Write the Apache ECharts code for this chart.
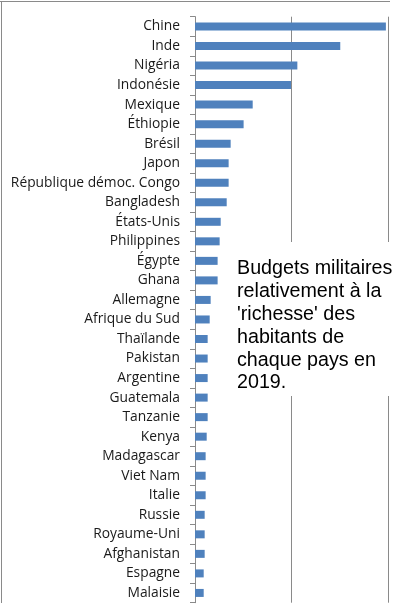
<!DOCTYPE html>
<html>
<head>
<meta charset="utf-8">
<script src="https://cdn.jsdelivr.net/npm/echarts@6/dist/echarts.min.js"></script>
<style>html,body{margin:0;padding:0;background:#fff;}#c{width:416px;height:614px;}</style>
</head>
<body>
<div id="c"></div>
<script>
const categories = ["Chine","Inde","Nigéria","Indonésie","Mexique","Éthiopie","Brésil","Japon","République démoc. Congo","Bangladesh","États-Unis","Philippines","Égypte","Ghana","Allemagne","Afrique du Sud","Thaïlande","Pakistan","Argentine","Guatemala","Tanzanie","Kenya","Madagascar","Viet Nam","Italie","Russie","Royaume-Uni","Afghanistan","Espagne","Malaisie"];
const values = [1.975,1.503,1.059,0.993,0.597,0.503,0.369,0.348,0.348,0.328,0.266,0.255,0.234,0.234,0.162,0.152,0.131,0.131,0.131,0.131,0.131,0.121,0.110,0.110,0.110,0.100,0.100,0.100,0.090,0.090];
const noteLines = ["Budgets militaires","relativement à la","'richesse' des","habitants de","chaque pays en","2019."];

const chart = echarts.init(document.getElementById('c'), null, {renderer:'canvas'});
chart.setOption({
  animation:false,
  backgroundColor:'#fff',
  grid:{left:195, right:27.7, top:16.7, bottom:11.3, containLabel:false},
  xAxis:{type:'value', min:0, max:2, interval:1,
    axisLabel:{show:false}, axisLine:{show:false}, axisTick:{show:false},
    splitLine:{show:true, lineStyle:{color:'#8a8a8a', width:1}}},
  yAxis:{type:'category', inverse:true, data:categories,
    axisLine:{show:true, lineStyle:{color:'#8a8a8a', width:1}},
    axisTick:{show:true, length:5, lineStyle:{color:'#8a8a8a'}},
    axisLabel:{margin:15, color:'#1a1a1a', fontSize:13.8, fontFamily:'Open Sans'}},
  series:[{type:'bar', data:values, barWidth:8, itemStyle:{color:'#4f81bd'}, silent:true}],
  graphic:[
    {type:'line', shape:{x1:0, y1:1.5, x2:390, y2:1.5}, style:{stroke:'#8a8a8a', lineWidth:1}, z:10},
    {type:'line', shape:{x1:1.5, y1:1, x2:1.5, y2:603}, style:{stroke:'#8a8a8a', lineWidth:1}, z:10},
    {type:'rect', shape:{x:229, y:242, width:187, height:154}, style:{fill:'#fff'}, z:20},
    {type:'text', x:237, y:257.5, z:21, style:{text:noteLines.join('\n'), font:'19.7px "Liberation Sans", Arial, sans-serif', fill:'#000', lineHeight:22.8, verticalAlign:'top', align:'left'}}
  ]
});
</script>
</body>
</html>
